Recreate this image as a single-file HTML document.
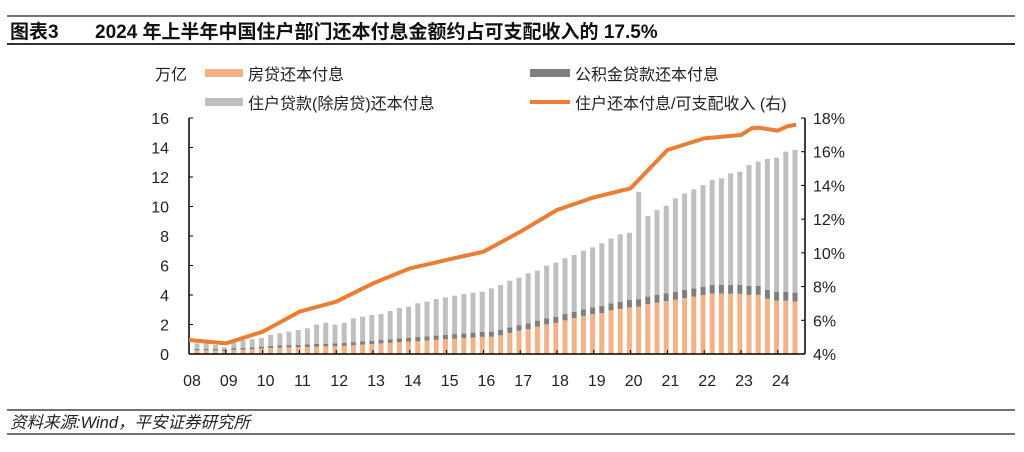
<!DOCTYPE html>
<html><head><meta charset="utf-8">
<style>
body{margin:0;background:#fff;width:1024px;height:447px;overflow:hidden;font-family:"Liberation Sans","Noto Sans CJK SC",sans-serif;}
svg text{font-family:"Liberation Sans","Noto Sans CJK SC",sans-serif;}
</style></head><body>
<svg id="chart" width="1024" height="447">
<line x1="7" y1="16" x2="1015" y2="16" stroke="#444" stroke-width="1.5"/>
<text x="10" y="38" font-size="19" font-weight="bold" fill="#111">图表3</text>
<text x="95" y="38" font-size="19" font-weight="bold" fill="#111">2024 年上半年中国住户部门还本付息金额约占可支配收入的 17.5%</text>
<line x1="7" y1="44" x2="1015" y2="44" stroke="#333" stroke-width="2"/>
<text x="155" y="80" font-size="16" fill="#222">万亿</text>
<g><rect x="205" y="69" width="38" height="8" fill="#f4b183"/><text x="248" y="80" font-size="16" fill="#222">房贷还本付息</text></g>
<g><rect x="205" y="98" width="38" height="8" fill="#bfbfbf"/><text x="248" y="109" font-size="16" fill="#222">住户贷款(除房贷)还本付息</text></g>
<g><rect x="530" y="69" width="40" height="8" fill="#7f7f7f"/><text x="575" y="80" font-size="16" fill="#222">公积金贷款还本付息</text></g>
<g><line x1="530" y1="102" x2="570" y2="102" stroke="#ed7d31" stroke-width="4"/><text x="575" y="109" font-size="16" fill="#222">住户还本付息/可支配收入 (右)</text></g>
<g id="bars"></g>
<g id="axes"></g>
<path id="ratio" fill="none" stroke="#ed7d31" stroke-width="4" stroke-linejoin="round"/>
<line x1="7" y1="410" x2="1015" y2="410" stroke="#444" stroke-width="1.5"/>
<text x="10" y="428" font-size="16.5" font-style="italic" fill="#222">资料来源:Wind，平安证券研究所</text>
<line x1="7" y1="434" x2="1015" y2="434" stroke="#444" stroke-width="1.5"/>
</svg>
<script>
const yearLabels=["08","09","10","11","12","13","14","15","16","17","18","19","20","21","22","23","24"];
const leftTicks=[0,2,4,6,8,10,12,14,16];
const rightTicks=[4,6,8,10,12,14,16,18];
const totals=[0.72,0.72,0.61,0.45,0.84,0.95,1.0,1.09,1.3,1.4,1.52,1.63,1.74,2.0,2.12,2.0,2.12,2.42,2.53,2.64,2.71,2.92,3.12,3.21,3.44,3.55,3.73,3.84,3.95,4.07,4.16,4.22,
4.45,4.68,4.97,5.17,5.47,5.65,5.99,6.19,6.49,6.71,7.0,7.23,7.5,7.82,8.11,8.22,11.0,9.36,9.76,10.05,10.55,10.89,11.16,11.45,11.8,11.91,12.25,12.36,12.81,13.04,13.22,13.31,13.72,13.83];
const mortgage=[0.25,0.25,0.23,0.2,0.28,0.3,0.32,0.37,0.41,0.43,0.45,0.46,0.48,0.5,0.52,0.53,0.55,0.6,0.64,0.68,0.72,0.76,0.8,0.84,0.88,0.92,0.96,1.0,1.04,1.08,1.12,1.16,
1.17,1.27,1.43,1.58,1.69,1.86,2.01,2.11,2.28,2.43,2.58,2.7,2.78,2.96,3.06,3.16,3.21,3.38,3.48,3.58,3.68,3.79,3.89,3.99,4.1,4.1,4.09,4.08,4.01,4.01,3.74,3.62,3.62,3.56];
const fund=[0.1,0.1,0.1,0.1,0.12,0.12,0.13,0.13,0.14,0.15,0.15,0.16,0.17,0.18,0.18,0.19,0.2,0.2,0.21,0.22,0.23,0.24,0.25,0.26,0.27,0.28,0.29,0.3,0.31,0.32,0.33,0.34,
0.35,0.36,0.37,0.38,0.39,0.4,0.41,0.42,0.43,0.44,0.45,0.46,0.47,0.48,0.49,0.5,0.5,0.51,0.52,0.53,0.54,0.55,0.56,0.57,0.58,0.58,0.59,0.6,0.6,0.6,0.6,0.6,0.6,0.6];
const ratioTimes=[2008,2009,2010,2011,2012,2013,2014,2015,2016,2017,2018,2019,2020,2021,2022,2023,2023.3,2023.5,2024,2024.25,2024.5];
const ratioValues=[4.83,4.63,5.32,6.51,7.1,8.19,9.08,9.58,10.07,11.25,12.54,13.29,13.83,16.1,16.79,16.99,17.4,17.42,17.25,17.5,17.6];

const NS="http://www.w3.org/2000/svg";
const L=189,R=805,T=118,B=354;
const yL=v=>B-(v/16)*(B-T);
const yR=p=>B-((p-4)/14)*(B-T);
const xT=t=>L+(t-2008)*36.8;
const xBar=i=>197+i*9.2;
function mk(tag,attrs,parent){const e=document.createElementNS(NS,tag);for(const k in attrs)e.setAttribute(k,attrs[k]);parent.appendChild(e);return e;}
const bars=document.getElementById('bars');
totals.forEach((tot,i)=>{
  const x=xBar(i)-2.5,m=mortgage[i],f=fund[i];
  const r1=mk('rect',{x:x,y:yL(m),width:5,height:yL(0)-yL(m),fill:'#f4b183'},bars);
  
  
  const r2=mk('rect',{x:x,y:yL(m+f),width:5,height:yL(m)-yL(m+f),fill:'#7f7f7f'},bars);
  
  
  const r3=mk('rect',{x:x,y:yL(tot),width:5,height:Math.max(0,yL(m+f)-yL(tot)),fill:'#bfbfbf'},bars);
  
  
});
const ax=document.getElementById('axes');
mk('line',{x1:L,y1:T,x2:L,y2:B,stroke:'#000','stroke-width':1.5},ax);
mk('line',{x1:R,y1:T,x2:R,y2:B,stroke:'#000','stroke-width':1.5},ax);
mk('line',{x1:L,y1:B,x2:R,y2:B,stroke:'#000','stroke-width':1.5},ax);
leftTicks.forEach(v=>{
  mk('line',{x1:L,y1:yL(v),x2:L+4,y2:yL(v),stroke:'#000'},ax);
  const t=mk('text',{x:L-20,y:yL(v)+6,'font-size':16,'text-anchor':'end',fill:'#222'},ax);t.textContent=v;
  
  
});
rightTicks.forEach(p=>{
  mk('line',{x1:R-4,y1:yR(p),x2:R,y2:yR(p),stroke:'#000'},ax);
  const t=mk('text',{x:R+8,y:yR(p)+6,'font-size':16,fill:'#222'},ax);t.textContent=p+'%';
  
  
});
yearLabels.forEach((lab,i)=>{
  const x=xT(2008+i);
  mk('line',{x1:x,y1:B-4,x2:x,y2:B,stroke:'#000'},ax);
  const t=mk('text',{x:x+3,y:386,'font-size':16,'text-anchor':'middle',fill:'#222'},ax);t.textContent=lab;
  
  
});
document.getElementById('ratio').setAttribute('d',ratioTimes.map((t,i)=>(i?'L':'M')+xT(t).toFixed(1)+','+yR(ratioValues[i]).toFixed(1)).join(' '));
</script>
</body></html>
